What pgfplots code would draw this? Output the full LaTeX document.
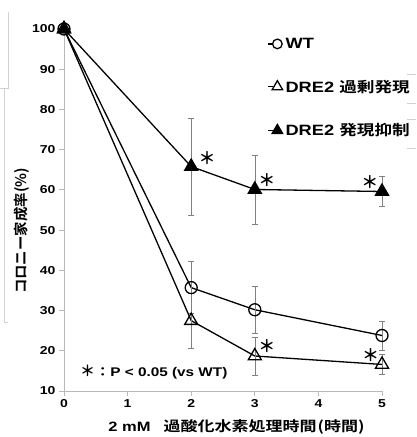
\documentclass[border=0pt]{standalone}
\usepackage{fontspec}
\setmainfont{Liberation Sans}[FakeStretch=1.22]
\newfontfamily\jp{Noto Sans CJK JP}[FakeStretch=1.22, BoldFont={Noto Sans CJK JP Bold}]
\newfontfamily\jpn{Noto Sans CJK JP}[BoldFont={Noto Sans CJK JP Bold}]
\usepackage{pgfplots}
\pgfplotsset{compat=1.18}
\begin{document}
\begin{tikzpicture}[x=1bp,y=1bp]
\path[use as bounding box] (0,0) rectangle (416,437);
% faint artefact lines
\draw[gray!35, line width=0.6bp] (8,425) -- (8,349) -- (0,349);
\draw[gray!35, line width=0.6bp] (4,349) -- (4,115) -- (8,115);
\foreach \yy in {74,103,119,148} {\draw[gray!35, line width=0.6bp] (407,437-\yy) -- (416,437-\yy);}
\begin{axis}[
  at={(64bp,46bp)}, anchor=south west,
  width=318bp, height=362bp, scale only axis,
  xmin=0, xmax=5, ymin=10, ymax=100,
  axis x line*=bottom, axis y line*=left,
  axis line style={gray!55, line width=0.8bp},
  tick style={gray!55, line width=0.8bp},
  tick align=outside, major tick length=5bp,
  xtick={0,1,2,3,4,5}, ytick={10,20,...,100},
  /pgf/number format/assume math mode=true,
  tick label style={font=\bfseries\fontsize{11.5}{14}\selectfont},
  clip=false,
  error bars/error bar style={gray, line width=0.6bp},
  error bars/error mark options={gray, line width=0.6bp, mark size=3bp, rotate=90},
  legend style={at={(axis cs:3.2,98.3)}, anchor=north west, draw=none, fill=none,
    font=\bfseries\fontsize{15}{17}\selectfont, row sep=26bp, column sep=1bp,
    cells={anchor=west}, inner sep=0pt},
  legend image code/.code={\draw[#1, mark=none] (0bp,0bp) -- (5bp,0bp);
     \draw[#1, every mark/.append style={scale=0.8}] plot coordinates {(9bp,0bp)};},
]
\addplot[black, line width=1.3bp, mark=o, mark size=6bp,
  mark options={fill=white, solid, line width=1.3bp},
  error bars/.cd, y dir=both, y explicit]
  coordinates {(0,100) +- (0,0) (2,35.7) +- (0,6.5) (3,30.2) +- (0,5.8) (5,23.8) +- (0,3.6)};
\addlegendentry{WT}
\addplot[black, line width=1.3bp, mark=triangle, mark size=7.5bp,
  mark options={fill=white, solid, line width=1.3bp},
  error bars/.cd, y dir=both, y explicit]
  coordinates {(0,100) +- (0,0) (2,27.5) +- (0,6.8) (3,18.7) +- (0,4.7) (5,16.6) +- (0,2.4)};
\addlegendentry{DRE2 {\jp\fontsize{14.5}{17}\selectfont 過剰発現}}
\addplot[black, line width=1.3bp, mark=triangle*, mark size=7.5bp,
  mark options={fill=black, solid, line width=1.3bp},
  error bars/.cd, y dir=both, y explicit]
  coordinates {(0,100) +- (0,0) (2,65.8) +- (0,12) (3,60.1) +- (0,8.6) (5,59.6) +- (0,3.8)};
\addlegendentry{DRE2 {\jp\fontsize{14.5}{17}\selectfont 発現抑制}}
% significance asterisks
\node[font=\jpn\bfseries\fontsize{17}{17}\selectfont] at (axis cs:2.25,67.9) {＊};
\node[font=\jpn\bfseries\fontsize{17}{17}\selectfont] at (axis cs:3.19,62.5) {＊};
\node[font=\jpn\bfseries\fontsize{17}{17}\selectfont] at (axis cs:4.81,62.0) {＊};
\node[font=\jpn\bfseries\fontsize{17}{17}\selectfont] at (axis cs:3.19,21.2) {＊};
\node[font=\jpn\bfseries\fontsize{17}{17}\selectfont] at (axis cs:4.82,19.0) {＊};
\node[anchor=west, font=\bfseries\fontsize{12.6}{15}\selectfont, inner sep=0pt] at (axis cs:0.25,14.7) {{\jpn\fontsize{15}{15}\selectfont ＊}{\jp ：}P < 0.05 (vs WT)};
\end{axis}
\node[rotate=90, font=\jpn\bfseries\fontsize{14.5}{15}\selectfont] at (22,206) {コロニー家成率(\%)};
\node[font=\bfseries\fontsize{13.6}{16}\selectfont] at (236.5,10) {2 mM\hspace*{13bp}{\jp\fontsize{14}{16}\selectfont 過酸化水素処理時間\kern1bp(時間)}};
\end{tikzpicture}
\end{document}
